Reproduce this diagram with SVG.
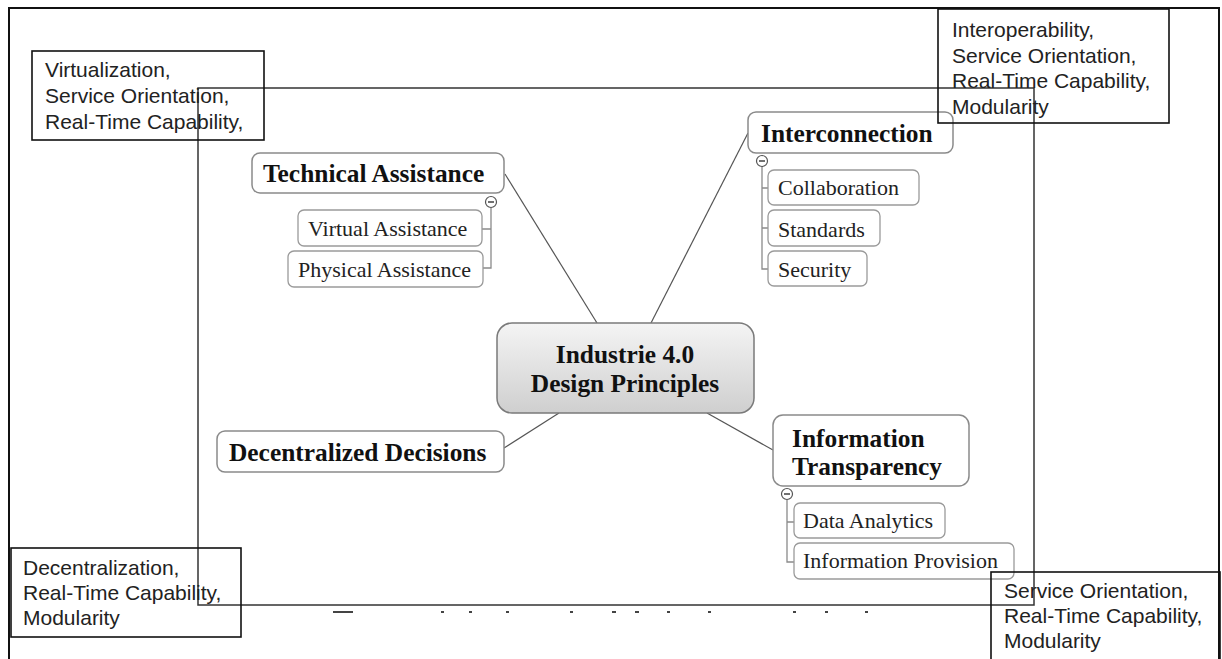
<svg xmlns="http://www.w3.org/2000/svg" width="1222" height="659" viewBox="0 0 1222 659">
<defs>
<linearGradient id="cg" x1="0" y1="0" x2="0" y2="1">
<stop offset="0" stop-color="#f4f4f4"/>
<stop offset="1" stop-color="#cfcfcf"/>
</linearGradient>
</defs>
<style>
.frame{fill:none;stroke:#111;stroke-width:2}
.inner{fill:none;stroke:#333;stroke-width:1.5}
.note{fill:none;stroke:#111;stroke-width:1.6}
.nt{font-family:"Liberation Sans",Arial,sans-serif;font-size:21px;fill:#222}
.main{fill:#fff;stroke:#8a8a8a;stroke-width:1.5}
.child{fill:#fff;stroke:#9a9a9a;stroke-width:1.3}
.mt{font-family:"Liberation Serif","Times New Roman",serif;font-weight:bold;font-size:25.4px;fill:#111}
.ct{font-family:"Liberation Serif","Times New Roman",serif;font-size:22px;fill:#222}
.conn{stroke:#555;stroke-width:1.2;fill:none}
.tree{stroke:#8a8a8a;stroke-width:1.3;fill:none}
.tog{fill:#fff;stroke:#555;stroke-width:1.2}
.mark{fill:#444}
</style>
<rect width="1222" height="659" fill="#fff"/>
<rect class="frame" x="9" y="8" width="1210" height="720"/>
<rect class="inner" x="198" y="88" width="836" height="517"/>
<g id="caption-remnant">
<rect class="mark" x="333" y="611" width="20" height="2"/>
<rect class="mark" x="441" y="611" width="3" height="2"/>
<rect class="mark" x="469" y="611" width="3" height="2"/>
<rect class="mark" x="506" y="611" width="3" height="2"/>
<rect class="mark" x="570" y="611" width="3" height="2"/>
<rect class="mark" x="612" y="611" width="4" height="2"/>
<rect class="mark" x="635" y="611" width="4" height="2"/>
<rect class="mark" x="667" y="611" width="3" height="2"/>
<rect class="mark" x="708" y="611" width="3" height="2"/>
<rect class="mark" x="793" y="611" width="3" height="2"/>
<rect class="mark" x="825" y="611" width="3" height="2"/>
<rect class="mark" x="865" y="611" width="3" height="2"/>
</g>
<g id="connectors">
<line class="conn" x1="597" y1="323" x2="505" y2="174"/>
<line class="conn" x1="651" y1="323" x2="748" y2="133"/>
<line class="conn" x1="559" y1="413" x2="504" y2="448"/>
<line class="conn" x1="707" y1="413" x2="773" y2="450"/>
<path class="tree" d="M491 208 V268 H483 M491 229 H482"/>
<path class="tree" d="M762 167 V269 H768 M762 188 H768 M762 228 H768"/>
<path class="tree" d="M787 500 V562 H794 M787 522 H794"/>
</g>
<g id="center">
<rect x="497" y="323" width="257" height="90" rx="15" fill="url(#cg)" stroke="#7a7a7a" stroke-width="1.5"/>
<text class="mt" x="625" y="363" text-anchor="middle">Industrie 4.0</text>
<text class="mt" x="625" y="392" text-anchor="middle">Design Principles</text>
</g>
<g id="technical-assistance">
<rect class="main" x="252" y="153" width="252" height="40" rx="8"/>
<text class="mt" x="263" y="182">Technical Assistance</text>
<circle class="tog" cx="491" cy="202" r="5.5"/>
<line x1="488" y1="202" x2="494" y2="202" stroke="#333" stroke-width="1.4"/>
</g>
<g id="virtual-assistance">
<rect class="child" x="298" y="210" width="184" height="36" rx="6"/>
<text class="ct" x="308" y="236">Virtual Assistance</text>
</g>
<g id="physical-assistance">
<rect class="child" x="288" y="251" width="195" height="36" rx="6"/>
<text class="ct" x="298" y="277">Physical Assistance</text>
</g>
<g id="interconnection">
<rect class="main" x="748" y="112" width="205" height="41" rx="8"/>
<text class="mt" x="761" y="142">Interconnection</text>
<circle class="tog" cx="762" cy="161" r="5.5"/>
<line x1="759" y1="161" x2="765" y2="161" stroke="#333" stroke-width="1.4"/>
</g>
<g id="collaboration">
<rect class="child" x="768" y="170" width="151" height="35" rx="6"/>
<text class="ct" x="778" y="195">Collaboration</text>
</g>
<g id="standards">
<rect class="child" x="768" y="210" width="112" height="36" rx="6"/>
<text class="ct" x="778" y="237">Standards</text>
</g>
<g id="security">
<rect class="child" x="768" y="251" width="99" height="35" rx="6"/>
<text class="ct" x="778" y="277">Security</text>
</g>
<g id="decentralized-decisions">
<rect class="main" x="217" y="431" width="287" height="41" rx="8"/>
<text class="mt" x="229" y="461">Decentralized Decisions</text>
</g>
<g id="information-transparency">
<rect class="main" x="773" y="415" width="196" height="71" rx="10"/>
<text class="mt" x="792" y="447">Information</text>
<text class="mt" x="792" y="475">Transparency</text>
<circle class="tog" cx="787" cy="494" r="5.5"/>
<line x1="784" y1="494" x2="790" y2="494" stroke="#333" stroke-width="1.4"/>
</g>
<g id="data-analytics">
<rect class="child" x="794" y="503" width="151" height="35" rx="6"/>
<text class="ct" x="803" y="528">Data Analytics</text>
</g>
<g id="information-provision">
<rect class="child" x="794" y="543" width="220" height="36" rx="6"/>
<text class="ct" x="803" y="568">Information Provision</text>
</g>
<g id="note-technical">
<rect class="note" x="32" y="51" width="232" height="89"/>
<text class="nt" x="45" y="77">Virtualization,</text>
<text class="nt" x="45" y="103">Service Orientation,</text>
<text class="nt" x="45" y="129">Real-Time Capability,</text>
</g>
<g id="note-interconnection">
<rect class="note" x="938" y="9" width="231" height="114"/>
<text class="nt" x="952" y="37">Interoperability,</text>
<text class="nt" x="952" y="63">Service Orientation,</text>
<text class="nt" x="952" y="88">Real-Time Capability,</text>
<text class="nt" x="952" y="114">Modularity</text>
</g>
<g id="note-decentralized">
<rect class="note" x="11" y="548" width="230" height="89"/>
<text class="nt" x="23" y="575">Decentralization,</text>
<text class="nt" x="23" y="600">Real-Time Capability,</text>
<text class="nt" x="23" y="625">Modularity</text>
</g>
<g id="note-transparency">
<rect class="note" x="991" y="572" width="229" height="120"/>
<text class="nt" x="1004" y="598">Service Orientation,</text>
<text class="nt" x="1004" y="623">Real-Time Capability,</text>
<text class="nt" x="1004" y="648">Modularity</text>
</g>
</svg>
